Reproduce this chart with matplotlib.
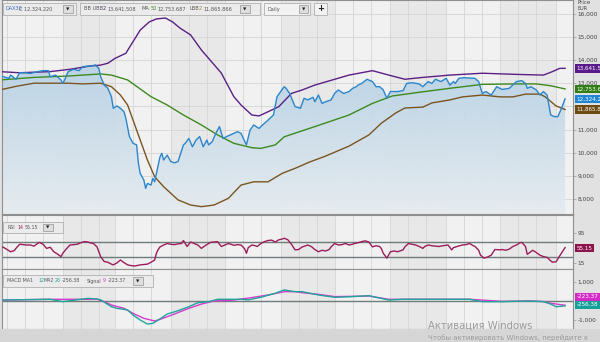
import numpy as np
import pandas as pd
import matplotlib
matplotlib.use("Agg")
import matplotlib.pyplot as plt
import matplotlib.transforms as mtransforms
from matplotlib.patches import Rectangle, PathPatch
from matplotlib.colors import LinearSegmentedColormap

# days counted from 2020-01-01
price_days = [-4, -2, 1, 2, 5, 7, 10, 13, 17, 20, 23, 24, 27, 30, 31, 32, 34, 37, 40, 42,
              45, 47, 49, 51, 52, 54, 56, 58, 59, 61, 63, 65, 66, 68, 70, 72, 73, 74, 75, 76,
              77, 78, 80, 81, 82, 83, 85, 86, 87, 89, 91, 93, 95, 98, 99, 101, 103, 105, 107, 109,
              111, 112, 114, 116, 118, 120, 122, 124, 126, 128, 130, 133, 135, 137, 140, 141, 143, 145, 148, 150,
              152, 154, 155, 157, 160, 163, 165, 167, 170, 171, 173, 175, 177, 180, 182, 184, 187, 190, 192, 194,
              195, 197, 200, 203, 205, 207, 209, 211, 213, 217, 220, 222, 225, 229, 231, 234, 236, 238, 241, 244,
              246, 248, 249, 251, 254, 257, 260, 262, 264, 266, 269, 272, 275, 279, 283, 286, 288, 289, 291, 294,
              296, 298, 300, 301, 302, 304, 306, 308, 310]
price = [13350, 13280, 13210, 13350, 13170, 13450, 13450, 13420, 13500, 13540,
         13540, 13280, 13350, 13140, 12990, 13140, 13500, 13600, 13540, 13710,
         13740, 13740, 13790, 13640, 13280, 12920, 12780, 12420, 11920, 12020,
         11920, 11770, 11490, 10700, 10410, 10340, 9540, 9110, 8970, 8830,
         8470, 8680, 8610, 8900, 8750, 9110, 9830, 9980, 9690, 9900,
         9620, 9570, 9620, 10340, 10410, 10620, 10260, 10550, 10700, 10260,
         10550, 10340, 10480, 10840, 11130, 10620, 10700, 10770, 10840, 10910,
         10840, 10340, 10980, 11200, 11050, 11130, 11270, 11410, 11630, 12420,
         12640, 12850, 12780, 12560, 11990, 11920, 12350, 12280, 12390, 12200,
         12490, 12130, 12200, 12280, 12560, 12710, 12560, 12640, 12780, 12850,
         12920, 12990, 13170, 13070, 12850, 12850, 12710, 12350, 12640, 12640,
         12680, 12990, 13020, 12970, 12850, 13070, 12990, 13170, 13070, 13210,
         12920, 13070, 12990, 13210, 13240, 13220, 13210, 13070, 12560, 12640,
         12490, 12850, 12730, 12780, 13070, 13110, 12990, 12780, 12850, 12710,
         12490, 12640, 12490, 12060, 11630, 11560, 11560, 11920, 12324.22]

ubb_days = [-4, 7, 24, 35, 46, 52, 56, 60, 66, 70, 74, 79, 83, 88, 92, 96, 102, 108, 119, 126,
            130, 136, 140, 145, 151, 158, 164, 171, 190, 203, 214, 221, 231, 246, 264, 283, 298, 303, 307, 310]
ubb = [13500, 13450, 13500, 13600, 13740, 13780, 13860, 14070, 14290, 14790,
       15290, 15640, 15770, 15810, 15640, 15380, 15080, 14430, 13440, 12420,
       12060, 11630, 11590, 11770, 11990, 12560, 12710, 12920, 13350, 13540,
       13310, 13170, 13250, 13350, 13430, 13380, 13350, 13500, 13640, 13641.5]

ma_days = [-4, 15, 34, 52, 58, 67, 80, 89, 98, 108, 117, 126, 136, 141, 149, 154, 164, 171, 190, 203,
           214, 231, 246, 264, 283, 294, 302, 310]
ma = [13140, 13250, 13310, 13400, 13350, 13140, 12420, 12060, 11630, 11200,
      10770, 10410, 10220, 10190, 10340, 10690, 10950, 11130, 11630, 12130,
      12450, 12630, 12780, 12950, 12970, 12970, 12890, 12753.69]

lbb_days = [-4, 6, 15, 34, 42, 52, 58, 63, 67, 70, 74, 78, 82, 87, 95, 102, 108, 115, 123, 130,
            137, 145, 153, 160, 168, 177, 190, 201, 208, 216, 221, 231, 236, 246, 253, 264, 274, 281, 288, 296,
            299, 305, 310]
lbb = [12710, 12880, 13000, 13000, 12970, 13000, 12850, 12490, 12060, 11410,
       10550, 9690, 8970, 8540, 7970, 7750, 7680, 7750, 8040, 8610,
       8750, 8750, 9120, 9330, 9600, 9860, 10290, 10770, 11280, 11720,
       11930, 11970, 12150, 12280, 12410, 12490, 12410, 12410, 12530, 12530,
       12410, 12020, 11865.87]

rsi_days = [-4, -2, 0, 2, 4, 5, 7, 9, 11, 13, 15, 17, 18, 20, 22, 24, 26, 28, 30, 31,
            33, 35, 37, 39, 41, 43, 45, 46, 48, 50, 52, 54, 56, 58, 59, 61, 63, 65, 67, 69,
            71, 72, 74, 76, 78, 80, 82, 83, 84, 85, 87, 89, 91, 93, 95, 97, 98, 100, 102, 104,
            106, 108, 110, 112, 113, 115, 117, 119, 121, 123, 125, 126, 128, 130, 132, 133, 134, 136, 138, 139,
            141, 143, 145, 147, 149, 151, 153, 154, 156, 158, 160, 162, 164, 166, 167, 169, 171, 173, 175, 177,
            179, 180, 182, 184, 186, 188, 190, 192, 193, 195, 197, 199, 201, 203, 205, 207, 208, 209, 211, 213,
            215, 217, 220, 221, 223, 225, 227, 229, 231, 232, 234, 236, 238, 240, 242, 245, 247, 248, 250, 253,
            255, 257, 259, 260, 262, 263, 265, 267, 269, 271, 274, 275, 277, 279, 281, 283, 285, 286, 288, 289,
            292, 294, 296, 298, 300, 302, 303, 304, 305, 307, 309, 310]
rsi = [57, 56, 50, 44, 47, 53, 64, 63, 62, 62, 59, 66, 69, 64, 53, 56, 44, 38, 31, 40,
       52, 62, 63, 64, 68, 71, 70, 68, 66, 57, 31, 18, 16, 11, 9, 14, 22, 15, 9, 7,
       6, 7, 9, 10, 11, 16, 22, 40, 50, 57, 62, 66, 64, 63, 65, 66, 74, 58, 70, 66,
       62, 53, 60, 66, 69, 70, 71, 58, 62, 66, 63, 61, 63, 62, 52, 40, 55, 62, 60, 58,
       66, 71, 74, 75, 70, 76, 78, 80, 76, 64, 49, 50, 57, 60, 62, 58, 50, 44, 48, 46,
       50, 57, 66, 62, 63, 66, 62, 64, 66, 68, 71, 73, 70, 57, 60, 58, 52, 40, 27, 44,
       46, 44, 49, 57, 66, 64, 62, 58, 53, 58, 62, 60, 59, 58, 60, 62, 49, 55, 58, 62,
       63, 66, 60, 58, 48, 35, 27, 30, 35, 50, 49, 50, 48, 51, 58, 62, 68, 69, 58, 37,
       48, 42, 35, 31, 29, 20, 16, 17, 17, 33, 48, 55.15]

macd_days = [-4, 24, 31, 45, 50, 52, 58, 61, 67, 70, 74, 78, 81, 84, 89, 95, 101, 106, 112, 117,
             130, 134, 141, 149, 154, 160, 164, 173, 182, 192, 201, 212, 220, 238, 257, 264, 275, 290, 298, 302,
             305, 310]
macd = [50, 90, -35, 140, 100, 60, -300, -385, -470, -735,
        -1000, -1210, -1175, -1000, -685, -510, -300, -90, -35, 90,
        90, 60, 195, 405, 580, 490, 490, 315, 195, 230,
        280, 50, 90, 90, 90, -35, -35, 0, -35, -160,
        -300, -256.38]

sig_days = [-4, 24, 45, 50, 54, 58, 65, 70, 76, 82, 85, 93, 101, 108, 115, 126, 137, 145, 154, 160,
            164, 173, 182, 201, 212, 220, 238, 257, 275, 290, 298, 302, 310]
signal = [50, 90, 90, 100, -35, -210, -385, -650, -910, -1050,
          -965, -685, -385, -160, 0, 50, 195, 315, 490, 490,
          435, 350, 230, 260, 90, 90, 90, 90, -20, 0, -30, -120, -223.37]

month_names = ["Jan", "Feb", "Mar", "Apr", "May", "Jun", "Jul", "Aug", "Sep", "Oct"]
price_ticks = list(range(8000, 17000, 1000))

W, H = 600, 342
XMIN, XMAX = -2.78, 314.4

C_PRICE = "#2b86cc"
C_UBB = "#5b1f85"
C_MA = "#3d8a1f"
C_LBB = "#7a5520"
C_RSI = "#9c1d5c"
C_MACD = "#20a59b"
C_SIG = "#d63bcf"

fig = plt.figure(figsize=(6, 3.42), dpi=100, facecolor="#e1e1e1")


def fx(px):
    return px / W


def fy(py):
    return 1 - py / H


def panel(top, bottom):
    return fig.add_axes([fx(2), fy(bottom), fx(573) - fx(2), (bottom - top) / H])


month_start = (pd.date_range("2020-01-01", "2020-11-01", freq="MS") - pd.Timestamp("2020-01-01")).days.values
month_mid = (month_start[:-1] + month_start[1:]) / 2

ax1 = panel(0, 214)
ax2 = panel(215, 269)
ax3 = panel(269, 329)

for ax in (ax1, ax2, ax3):
    ax.set_facecolor("#f1f1f1")
    ax.set_xlim(XMIN, XMAX)
    edges = list(month_start) + [XMAX]
    for i in range(len(month_start)):
        if i % 2 == 1:
            ax.axvspan(edges[i], edges[i + 1], color="#e8e8e8", lw=0, zorder=0)
    for m in month_start:
        for off in (0, 10, 20):
            ax.axvline(m + off, color="#d5d5d5", lw=0.6, zorder=0.5)
    ax.tick_params(axis="x", bottom=False, labelbottom=False)
    ax.yaxis.tick_right()
    ax.tick_params(axis="y", length=2, width=0.5, color="#999999", labelsize=4.2,
                   labelcolor="#444444", pad=1.5)
    for s in ax.spines.values():
        s.set_color("#8f8f8f")
        s.set_linewidth(0.8)

# price panel
p_lo, p_hi = 7363, 16586
for v in price_ticks:
    ax1.axhline(v, color="#d5d5d5", lw=0.6, zorder=0.5)
fill = ax1.fill_between(price_days, price, p_lo, facecolor="none", edgecolor="none")
clip = PathPatch(fill.get_paths()[0], transform=ax1.transData, facecolor="none", edgecolor="none")
ax1.add_patch(clip)
grad = np.linspace(0, 1, 256).reshape(-1, 1)
cmap = LinearSegmentedColormap.from_list("fill", ["#b8d2e5", "#e6ecf0"])
im = ax1.imshow(grad, cmap=cmap, aspect="auto", extent=(XMIN, XMAX, p_lo, 13800),
                origin="upper", zorder=1, alpha=0.95)
im.set_clip_path(clip)
ax1.plot(ubb_days, ubb, color=C_UBB, lw=1.0, zorder=3)
ax1.plot(ma_days, ma, color=C_MA, lw=1.0, zorder=3)
ax1.plot(lbb_days, lbb, color=C_LBB, lw=1.0, zorder=3)
ax1.plot(price_days, price, color=C_PRICE, lw=1.0, zorder=4)
ax1.set_xlim(XMIN, XMAX)
ax1.set_ylim(p_lo, p_hi)
ax1.set_yticks(price_ticks)
ax1.set_yticklabels([f"{v:,}" for v in price_ticks])

# RSI panel
ax2.axhline(70, color="#6f7c7c", lw=1.0, zorder=2)
ax2.axhline(30, color="#6f7c7c", lw=1.0, zorder=2)
ax2.plot(rsi_days, rsi, color=C_RSI, lw=1.0, zorder=3)
ax2.set_ylim(-2, 142)
ax2.set_yticks([95, 15])
ax2.set_yticklabels(["95", "15"])

# MACD panel
ax3.axhline(0, color="#6f7c7c", lw=1.0, zorder=2)
ax3.plot(sig_days, signal, color=C_SIG, lw=1.0, zorder=3)
ax3.plot(macd_days, macd, color=C_MACD, lw=1.0, zorder=3)
ax3.set_ylim(-1470, 1680)
ax3.set_yticks([1000, -1000])
ax3.set_yticklabels(["1,000", "-1,000"])


def value_box(ax, y, text, color):
    tr = mtransforms.blended_transform_factory(ax.transAxes, ax.transData)
    ax.text(1.006, y, text, transform=tr, fontsize=4.1, color="white", va="center", ha="left",
            bbox=dict(boxstyle="square,pad=0.3", fc=color, ec="none"), clip_on=False, zorder=10)


value_box(ax1, 13641.5, "13,641.50", "#5a1a8a")
value_box(ax1, 12753.69, "12,753.68", "#2f7d14")
value_box(ax1, 12324.22, "12,324.22", "#1e86d4")
value_box(ax1, 11865.87, "11,865.86", "#6d4a12")
value_box(ax2, 54, "55.15", "#8e1150")
value_box(ax3, 210, "-223.37", "#d42bc8")
value_box(ax3, -210, "-256.38", "#16a09a")

fig.text(fx(577), fy(3), "Price", fontsize=4, color="#444444", va="center")
fig.text(fx(577), fy(9), "EUR", fontsize=3.6, color="#444444", va="center")

# bottom date strip
fig.patches.append(Rectangle((0, 0), 1, fy(329), transform=fig.transFigure,
                             facecolor="#d6d6d6", edgecolor="none", zorder=0))
tr3 = mtransforms.blended_transform_factory(ax3.transData, fig.transFigure)
for m in month_start:
    ax3.plot([m, m], [fy(329), 0], transform=tr3, color="#e6e6e6", lw=0.6, clip_on=False)
for name, mid in zip(month_names, month_mid):
    ax3.text(mid, fy(335), name, transform=tr3, fontsize=4.2, color="#333333",
             ha="center", va="center", clip_on=False)
ax3.text(155, fy(340.5), "2020", transform=tr3, fontsize=4, color="#333333",
         ha="center", va="center", clip_on=False)


def box(x0, y0, x1, y1, fc="#ebebeb", ec="#b0b0b0", lw=0.6):
    fig.patches.append(Rectangle((fx(x0), fy(y1)), fx(x1) - fx(x0), (y1 - y0) / H,
                                 transform=fig.transFigure, facecolor=fc, edgecolor=ec,
                                 lw=lw, zorder=20))


def label(x, y, s, color="#555555", size=3.6, **kw):
    fig.text(fx(x), fy(y), s, fontsize=size, color=color, va="center", zorder=21, **kw)


# toolbar
box(3, 3, 76, 15)
label(6, 9, "DAX30", color="#3a6fc4")
label(19, 9, "C 12,324.220")
box(63, 5, 73, 13, fc="#dedede", ec="#a0a0a0")
label(68, 9.3, "▼", color="#222222", size=3.2, ha="center")

box(80, 3, 260, 15)
label(84, 9, "BB UBB")
label(103, 9, "2", color=C_UBB)
label(107, 9, "13,641.508")
label(142, 9, "MA")
label(151, 9, "50", color=C_MA)
label(157, 9, "12,753.687")
label(190, 9, "LBB")
label(199, 9, "2", color="#b07a20")
label(203, 9, "11,865.866")
box(240, 5, 250, 13, fc="#dedede", ec="#a0a0a0")
label(245, 9.3, "▼", color="#222222", size=3.2, ha="center")

box(264, 3, 310, 15, fc="#f2f2f2")
label(268, 9, "Daily")
box(299, 5, 308, 13, fc="#dedede", ec="#a0a0a0")
label(303.5, 9.3, "▼", color="#222222", size=3.2, ha="center")
box(314, 3, 327, 15, fc="#f2f2f2")
label(320.5, 8.8, "+", color="#222222", size=6, ha="center", weight="bold")

# RSI legend
box(3, 222, 63, 233)
label(7, 227.5, "RSI", size=3.4)
label(17.5, 227.5, "14", color=C_RSI, size=3.4)
label(25, 227.5, "55.15", size=3.4)
box(43, 224, 53, 231, fc="#dedede", ec="#a0a0a0")
label(48, 227.8, "▼", color="#222222", size=3.2, ha="center")

# MACD legend
box(3, 275, 153, 287)
label(7, 281, "MACD MA1", size=3.4)
label(38, 281, "12", color=C_MACD, size=3.4)
label(44, 281, "MA2", size=3.4)
label(55, 281, "26", color=C_MACD, size=3.4)
label(62, 281, "-256.38", size=3.4)
label(87, 281, "Signal", size=3.4)
label(103, 281, "9", color=C_SIG, size=3.4)
label(108, 281, "-223.37", size=3.4)
box(133, 277, 143, 285, fc="#dedede", ec="#a0a0a0")
label(138, 281.3, "▼", color="#222222", size=3.2, ha="center")

# watermark
fig.text(fx(428), fy(326), "Активация Windows", fontsize=7.2, color="#9c9c9c", va="center", zorder=30)
fig.text(fx(428), fy(338), "Чтобы активировать Windows, перейдите к", fontsize=5, color="#9c9c9c",
         va="center", zorder=30)

fig.savefig("out.png", dpi=100, facecolor=fig.get_facecolor())
